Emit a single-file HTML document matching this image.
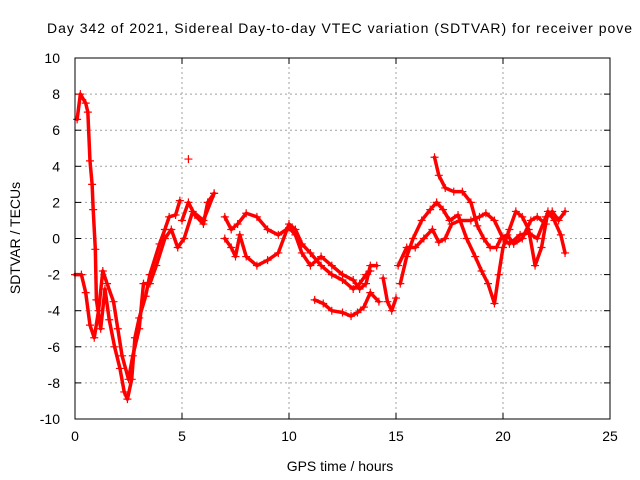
<!DOCTYPE html>
<html><head><meta charset="utf-8"><style>
body{margin:0;background:#fff;}
svg{display:block;font-family:"Liberation Sans",Arial,sans-serif;}
</style></head><body>
<svg id="chart" width="640" height="480" viewBox="0 0 640 480">
<text x="47" y="33" font-size="14" textLength="585" lengthAdjust="spacing" fill="#000">Day 342 of 2021, Sidereal Day-to-day VTEC variation (SDTVAR) for receiver pove</text>
<text x="340" y="471" font-size="14" text-anchor="middle">GPS time / hours</text>
<text transform="translate(20,238) rotate(-90)" font-size="14" text-anchor="middle">SDTVAR / TECUs</text>
<g id="grid"></g>
<g id="ticks"></g>
<g id="marks"></g>
<rect x="75" y="58" width="535" height="361" fill="none" stroke="#000" stroke-width="1"/>
</svg>
<script>
const xTicks=[0,5,10,15,20,25];
const yTicks=[-10,-8,-6,-4,-2,0,2,4,6,8,10];
const trackA_t=[0.1,0.25,0.5,0.6,0.7,0.8,0.85,0.95,1.0,1.2,1.4,1.6,1.85,2.1,2.3,2.45,2.65,2.8,3.0,3.3,3.5,3.95,4.2,4.4,4.7,4.9];
const trackA_v=[6.6,8,7.5,7,4.3,3,1.6,-0.6,-3.4,-5,-2.8,-4.5,-6,-7.2,-8.5,-8.9,-7.8,-5.5,-4.4,-3.2,-2,-0.3,0.5,1.2,1.3,2.1];
const trackB_t=[0,0.3,0.5,0.7,0.9,1.1,1.3,1.5,1.8,2.0,2.2,2.5,2.7,3.0,3.2,3.5,3.8,4.2,4.5,4.8,5.1,5.5,6.0,6.5];
const trackB_v=[-2,-2,-3,-4.8,-5.5,-4,-1.8,-2.5,-3.5,-5,-6.5,-7.8,-6.5,-5,-2.5,-2.5,-1.5,0,0.5,-0.5,0,1.5,1,2.5];
const trackC_t=[5.0,5.3,5.6,6.0,6.2,6.5];
const trackC_v=[1,2,1.3,0.8,2,2.5];
const trackD_t=[7.0,7.3,7.6,8.0,8.5,9.0,9.5,10.0,10.3,10.6,11.0,11.5,12.0,12.5,13.0,13.3,13.6,13.8,14.1];
const trackD_v=[1.2,0.5,0.8,1.4,1.2,0.5,0.2,0.6,0.2,-0.8,-1.5,-1.0,-1.5,-2.0,-2.3,-2.8,-2.5,-1.5,-1.5];
const trackE_t=[7.0,7.3,7.5,7.7,8.0,8.5,9.0,9.5,10.0,10.3,10.6,11.0,11.5,12.0,12.5,13.0,13.3,13.6,13.8];
const trackE_v=[0,-0.5,-1,0.2,-1.0,-1.5,-1.2,-0.8,0.8,0.5,-0.3,-0.8,-1.5,-2.0,-2.3,-2.8,-2.5,-2,-1.8];
const trackF_t=[11.2,11.6,12.0,12.5,12.9,13.2,13.5,13.8,14.2];
const trackF_v=[-3.4,-3.6,-4.0,-4.1,-4.3,-4.1,-3.8,-3,-3.5];
const trackG_t=[14.4,14.6,14.8,15.0];
const trackG_v=[-2.2,-3.5,-4,-3.3];
const trackH_t=[15.2,15.5,15.8,16.2,16.6,16.9,17.2,17.5,17.9,18.3,18.7,19.0,19.3,19.6,19.8,20.0,20.3,20.6,20.9,21.2,21.5,21.8,22.1,22.4,22.7,22.9];
const trackH_v=[-2.5,-1,0,1,1.6,2,1.6,1,1.3,0,-1,-1.8,-2.5,-3.6,-2,-0.5,0.5,1.5,1.2,0.5,-1.5,-0.5,1.5,1,0.2,-0.8];
const trackI_t=[15.1,15.5,15.9,16.3,16.7,17.0,17.3,17.6,18.0,18.5,18.9,19.2,19.6,20.0,20.3,20.8,21.2,21.6,22.0,22.3,22.6,22.9];
const trackI_v=[-1.5,-0.5,-0.5,0,0.5,-0.2,0,0.8,1.0,1.0,1.2,1.4,1.0,0,-0.3,0.2,0.3,0,1.2,1.5,1.0,1.5];
const trackJ_t=[16.8,17.0,17.3,17.7,18.1,18.5,18.8,19.1,19.4,19.7,19.9,20.2,20.5,20.9,21.3,21.6,22.0];
const trackJ_v=[4.5,3.5,2.8,2.6,2.6,2,0.7,0,-0.5,-0.5,0,0.2,-0.3,0,1.0,1.2,0.8];
const lonePoint_t=[5.3];
const lonePoint_v=[4.4];

const NS='http://www.w3.org/2000/svg';
const X0=75,X1=610,Y0=419,Y1=58;
function xs(t){return X0+(t-0)/(25-0)*(X1-X0);}
function ys(v){return Y0-(v+10)/20*(Y0-Y1);}
function mk(tag,attrs,parent){const e=document.createElementNS(NS,tag);for(const k in attrs)e.setAttribute(k,attrs[k]);parent.appendChild(e);return e;}
const grid=document.getElementById('grid'),ticks=document.getElementById('ticks'),marks=document.getElementById('marks');
xTicks.forEach(t=>{const x=xs(t);
 if(t>0&&t<25){const g=mk('line',{x1:x,x2:x,y1:Y0,y2:Y1,stroke:'#a0a0a0','stroke-dasharray':'2,3','stroke-width':1},grid);
 
 }
 mk('line',{x1:x,x2:x,y1:Y0,y2:Y0-6,stroke:'#000'},ticks);mk('line',{x1:x,x2:x,y1:Y1,y2:Y1+6,stroke:'#000'},ticks);
 const l=mk('text',{x:x,y:Y0+22,'font-size':14,'text-anchor':'middle'},ticks);l.textContent=t;
 
 
});
yTicks.forEach(v=>{const y=ys(v);
 if(v>-10&&v<10){const g=mk('line',{x1:X0,x2:X1,y1:y,y2:y,stroke:'#a0a0a0','stroke-dasharray':'2,3','stroke-width':1},grid);
 
 }
 mk('line',{x1:X0,x2:X0+6,y1:y,y2:y,stroke:'#000'},ticks);mk('line',{x1:X1,x2:X1-6,y1:y,y2:y,stroke:'#000'},ticks);
 const l=mk('text',{x:X0-15,y:y+5,'font-size':14,'text-anchor':'end'},ticks);l.textContent=v;
 
 
});
const tracks=[[trackA_t,trackA_v],[trackB_t,trackB_v],[trackC_t,trackC_v],[trackD_t,trackD_v],[trackE_t,trackE_v],[trackF_t,trackF_v],[trackG_t,trackG_v],[trackH_t,trackH_v],[trackI_t,trackI_v],[trackJ_t,trackJ_v],[lonePoint_t,lonePoint_v]];
tracks.forEach(([T,V],i)=>{
 if(T.length>1){const p=mk('polyline',{points:T.map((t,j)=>xs(t)+','+ys(V[j])).join(' '),fill:'none',stroke:'#ff0000','stroke-width':3.5,'stroke-linejoin':'round','stroke-linecap':'round'},marks);
 
 }
 T.forEach((t,j)=>{const x=xs(t),y=ys(V[j]);
  const m=mk('path',{d:`M${x-4},${y}H${x+4}M${x},${y-4}V${y+4}`,stroke:'#ff0000','stroke-width':1.2},marks);
  
  
 });
});
</script>
</body></html>
